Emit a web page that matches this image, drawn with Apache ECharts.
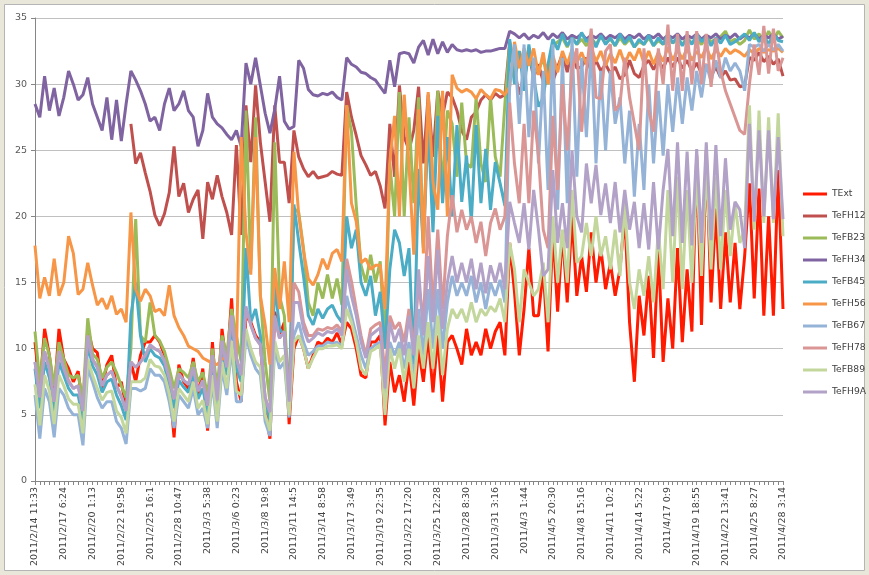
<!DOCTYPE html>
<html>
<head>
<meta charset="utf-8">
<script src="https://cdn.jsdelivr.net/npm/echarts@6/dist/echarts.min.js"></script>
<style>
html,body{margin:0;padding:0;background:#e9e7da;}
#c{width:869px;height:575px;}
</style>
</head>
<body>
<div id="c"></div>
<script>
var tickLabels = ["2011/2/14 11:33","2011/2/17 6:24","2011/2/20 1:13","2011/2/22 19:58","2011/2/25 16:1","2011/2/28 10:47","2011/3/3 5:38","2011/3/6 0:23","2011/3/8 19:8","2011/3/11 14:5","2011/3/14 8:58","2011/3/17 3:49","2011/3/19 22:35","2011/3/22 17:20","2011/3/25 12:28","2011/3/28 8:30","2011/3/31 3:16","2011/4/3 1:44","2011/4/5 20:30","2011/4/8 15:16","2011/4/11 10:2","2011/4/14 5:22","2011/4/17 0:9","2011/4/19 18:55","2011/4/22 13:41","2011/4/25 8:27","2011/4/28 3:14"];
var pointsPerLabel = 6;

var seriesNames = ["TExt","TeFH12","TeFB23","TeFH34","TeFB45","TeFH56","TeFB67","TeFH78","TeFB89","TeFH9A"];
var seriesColors = ["#ff1a00","#c0504d","#9bbb59","#8064a2","#4bacc6","#f79646","#95b3d7","#d99694","#c3d69b","#b3a2c7"];

var TExt = [10.5,7,11.5,9.5,6.5,11.5,9.2,8.5,7.5,8.3,
5.5,11.5,10,9.7,7,8.8,9.5,7,7.5,5.5,
9,7.5,9.5,10.5,10.5,11,10.5,9.5,7.5,3.3,
8.8,7.5,7,9.3,6.5,8.5,3.8,10.5,5.5,11.5,
8.5,13.8,7.5,6,12.5,12,11,10.5,5.5,3.2,
12.8,11,12,4.3,10,11,10,8.5,9.5,10.5,
10.3,10.8,10.5,11.2,10.3,12,11.5,10,8,7.8,
10.5,10.5,11,4.2,9,6.7,8,6,9,5.7,
10,7.5,11,6.7,11,6,10.5,11,10,8.8,
11.5,9.5,10.5,9.5,11.5,10,11.3,12,9.5,18,
14.3,9.5,13,17.6,12.5,12.5,16,9.8,19,12.8,
18.8,13.5,20,14,17,14.3,18.8,15,17.6,14.5,
16.5,14,16,20.1,12,7.5,14,11,15.5,9.3,
17.5,9,13.8,10,17.6,10.5,16,11.3,24.6,11.8,
25,13.5,20.6,13,18.8,13.5,18,13,17,22.5,
13.8,22.1,12.5,20,12.5,23.5,13];

var TeFH12 = [null,null,null,null,null,null,null,null,null,null,
null,null,null,null,null,null,null,null,null,null,
27,24,24.8,23.3,21.9,20.1,19.3,20.2,21.8,25.3,
21.5,22.5,20.3,21.3,22,18.3,22.6,21.3,23.1,21.5,
20.3,18.6,25.4,18.6,28.4,24.1,29.9,25.6,22.6,19.6,
28.4,24.1,24.1,21,26.5,24.5,23.6,23,23.4,22.9,
23,23.1,23.4,23.2,23.1,29.4,27.5,26.1,24.6,23.9,
23.1,23.4,22.3,20.6,27,23,29.9,26,25,26.5,
29.8,24,29.2,24.5,29.5,27.6,29.4,29,28,26.5,
25.8,27.5,27.9,28.8,29.2,28.8,29.3,29,29.2,33.2,
31,29.2,30.7,32.2,30.5,31.5,30.2,31.5,30.2,31.3,
32.3,30.9,32.6,31.2,31.3,32,31,31.8,31,31.5,
30.8,31.3,30.4,30.7,31.8,30.8,30.5,31.4,31.8,31.1,
31.8,31.2,32,31.3,32,31.2,31.8,31,31.6,30.8,
31.5,30.6,31.3,30.5,31,30.3,30.4,29.8,29.9,32,
31.8,32.4,31.7,32.1,31.5,31.9,30.6];

var TeFB23 = [11.3,7.5,10.8,9.5,7.2,10.5,9.2,8,7.8,8,
6.2,12.3,9.6,9.2,7.8,8.6,9,8.2,7.2,6.3,
10,19.8,11,10.5,13.5,11,10.6,9.8,8.5,7,
8.5,8.2,7.8,9,7.5,8.2,6.5,10,7,11,
9.5,13,11,9,28,16,27.5,14,9,6,
25.6,14,12.5,6,20.6,20.3,17.6,13.5,12.5,15,
13.8,15.6,13.8,15.3,13.3,28.4,26.4,20.8,16.3,15,
17.1,15,16.6,10,24,20,29.4,20,27.5,21,
29,18,28.5,20,29.5,22,28,27,23,28.6,
24,23.7,29,24,22.6,29,24.5,23,28.5,33,
31,32.5,30.5,32,31,31,32,30,32.8,33.2,
33.5,32.8,33.6,33,33.4,32.9,33.5,33,33.6,33.1,
33.4,32.9,33.5,33,33.4,32.8,33.2,33,33.5,32.9,
33.3,33,33.6,33.1,33.4,33,33.5,33.1,33.4,33,
33.6,33.2,33.4,33.6,34,33.2,33.4,33,33.3,34.1,
33.4,33.8,33.2,34,33.3,34,33.5];

var TeFH34 = [28.5,27.5,30.6,28,29.7,27.6,29,31,30,28.8,
29.2,30.5,28.5,27.5,26.5,29,25.8,28.8,25.7,28.5,
31,30.3,29.5,28.5,27.2,27.5,26.5,28.5,29.7,28,
28.5,29.5,28,27.5,25.3,26.5,29.3,27.5,27,26.7,
26.2,25.8,26.5,25.3,31.6,30,32,29.9,27.8,26.3,
28.1,30.6,27.2,26.6,26.8,31.8,31.2,29.6,29.2,29.1,
29.3,29.2,29.4,29,28.8,32,31.5,31.3,30.9,30.8,
30.5,30.3,29.8,29.3,31.8,29.8,32.3,32.4,32.3,31.6,
32.8,33.3,32.2,33.4,32.3,33.2,32.4,33,32.6,32.5,
32.6,32.5,32.6,32.4,32.5,32.5,32.6,32.7,32.7,34,
33.8,33.5,33.8,33.4,33.7,33.5,33.9,33.4,33.8,33.5,
33.9,33.4,33.7,33.5,33.8,33.4,33.7,33.5,33.8,33.4,
33.7,33.5,33.8,33.4,33.7,33.5,33.8,33.4,33.7,33.5,
33.8,33.4,33.7,33.5,33.8,33.4,33.7,33.5,33.8,33.4,
33.7,33.5,33.8,33.4,33.7,33.5,33.8,33.4,33.7,33.5,
33.8,33.4,33.7,33.5,33.8,33.4,33.6];

var TeFB45 = [8.5,5.5,9,7.8,5.2,9,8,7,6.5,6.5,
4.5,10.3,8.7,8,6.7,7.5,7.7,6.5,5.7,4.6,
12.5,15,11,9,10,9.5,9.3,8.7,7.2,5.5,
7.6,7.1,6.7,8.1,6.2,7,5.1,9,5.5,10,
8,11.9,8.5,7.5,17.6,12,13,11,6,4.6,
15,11.5,11,5.5,20.9,18.1,15.5,12.5,11.8,13,
12.3,13,13.3,12.5,12,20,17.6,19,15,14,
15.5,12.5,14.3,10,16,19,18,15.5,17.6,8.8,
23.6,17.6,26.9,18.8,27.6,21,26,20,26.9,21.1,
24.6,19.6,26.9,21,25.1,20.5,24.1,22.5,20.8,33.4,
30,32.5,29.5,33,30.5,28.3,29,31.5,33.4,32.6,
33.8,32.9,33.5,33,33.9,33.2,33.6,32.8,33.7,33,
33.5,32.9,33.8,33.1,33.6,32.8,33.4,33,33.7,32.9,
33.5,33,33.8,33.1,33.6,32.9,33.5,33,33.8,33.2,
33.6,32.9,33.5,33.1,33.7,33,33.2,33.5,33.8,33.3,
33.9,33.2,33.7,33,33.8,33.3,33.2];

var TeFH56 = [17.8,13.8,15.4,14,16.8,14,15,18.5,17.2,14.1,
14.5,16.5,14.8,13.3,13.8,13,14,12.6,13,12,
20.3,14.5,13.6,14.5,14,12.8,13,12.5,14.8,12.5,
11.6,11,10.2,10,9.8,9.3,9.1,8.9,8.8,9.2,
9.5,9,9.5,26,18.8,15.6,26,14,11.8,8.8,
16.1,13,16.6,12,24.9,20.1,17.4,15.3,14.8,15.6,
16.8,16,17.2,17.5,16.6,28.4,21,19.6,16.5,16.8,
16,16.3,16.3,13,24.1,27.6,20,29.2,23.9,17.1,
28.1,17.2,29.4,22.6,20.5,29.5,20,30.7,29.7,29.4,
29.6,29.4,28.9,29.6,29.2,28.9,29.6,29.5,29.2,29.8,
33.2,31.2,32.7,31.4,32.7,30.7,32.4,30,32.2,30.9,
32.5,31.5,32.6,31.6,32.4,31.5,32.8,31.7,32.5,31.4,
32.3,31.6,32.6,31.5,32.4,31.8,32.7,31.6,32.5,31.5,
32.4,31.7,32.8,31.8,32.6,31.9,32.7,31.8,32.5,32,
32.8,31.9,32.6,32.1,32.7,32.3,32.6,32.4,32.1,32.6,
32.3,32.7,32.4,32.6,32.5,32.7,32.4];

var TeFB67 = [6.5,3.2,7,6,3.3,7,6.5,5.5,5,5,
2.7,8.5,7.5,6.3,5.5,6,6,4.5,4,2.8,
7,7,6.8,7,8.5,8,8,7.5,6,4,
6.5,6,5.5,7,5,5.5,4,7.5,4,8.5,
6.5,10,6,6,11,9.5,8.5,8,4.5,3.4,
10,8.5,9,4.8,11,12,10.5,9.5,9.8,10.2,
10.2,10.5,10.4,10.5,10.2,14,12.5,11,9.5,8.5,
10,10.3,10.5,6,10.5,9.5,10.5,8.5,10.5,7.5,
13,9.5,14.5,10,14.5,10,13.5,15.5,14,15,
14,15.5,13.5,15,13,15,14,15.2,13.5,30,
33,27,33,26,32,24,31,22,33,20.5,
32,21,33.5,23,32,26,33,24,31,25,
31,27,29,24,28,21.5,27,22,30,24,
29.5,24.6,30,26.4,30.5,27,30.5,28,31,29,
31.5,30.2,31.8,30.5,32,31,31.6,31,29.5,33,
32.8,33,32.5,33,32.6,33,32.5];

var TeFH78 = [9,6.5,9.8,8.5,6,9.8,8.6,7.6,7,7.2,
5.3,11,9.2,8.6,7.2,8,8.3,7.2,6.4,5.3,
9,8.6,9,9.5,10.2,10,9.8,9.1,7.8,6.2,
8.1,7.6,7.3,8.6,6.8,7.6,5.7,9.5,6.1,10.5,
8.6,12.5,9.3,8,13,11.8,10.8,10.3,6.3,5.2,
12.3,10.8,11.3,6,15,14.3,12,11,11,11.5,
11.4,11.6,11.5,11.8,11.3,16.8,15.1,13,11,9.5,
11.5,11.8,12,8,12.5,11.5,12,10.5,13,10,
15,12,20,13,19,13,18.5,21.6,18.8,20.5,
19,20,18,19.6,17,19.5,20.6,19,20,28.6,
24,21,27,21,28,24.6,19,17.6,27.6,22,
30,25,31,32.7,26.4,31,34.2,29,28.9,32.5,
33,28,28.5,32,29,27,25,32.7,28,26.4,
32.7,30,34.5,29.5,33.8,29.5,34,30,34,30,
33.8,29.8,33.5,31,29.5,28.5,27.5,26.5,26.2,30,
33,30.7,34.4,30.8,34.2,31,32];

var TeFB89 = [7.3,4.2,8,6.8,4.3,8,7.2,6.2,5.8,5.8,
3.6,9.2,8,7,6.1,6.7,6.8,5.3,4.8,3.6,
7.5,7.5,7.5,7.8,9.2,8.7,8.6,8,6.6,4.5,
7,6.5,6,7.5,5.5,6.1,4.3,8,4.5,9,
7,10.6,6.8,6.5,11.5,10,9,8.6,5,3.8,
10.6,9,9.5,5,10.5,11,10,8.5,9.3,10,
10,10.2,10.2,10.3,10,13,12,10.5,8.5,8,
9.8,10,10.3,5,10,8.5,10,7.5,10,7,
11,8.5,12,8.5,12.5,8,11.5,13,12.3,13,
12,13.5,12,13,12.5,13.2,12.8,13.8,12,18,
16,12,16,15,14,14.5,16.5,12,20,15,
19,15,22,16.5,17,19.5,17,20,17,18.5,
16,19,15.5,21,15,13,16,14,17,13.5,
19,14.5,22,15,23,14.5,22,15,23.5,15.5,
23.9,16,23,16,22,17,21,18,19,28.4,
19,28,19.5,27.5,19.5,27.8,18.5];

var TeFH9A = [9,6.3,9.8,8.5,6,9.8,8.5,7.5,7,7.2,
5.3,11,9.2,8.6,7.2,8,8.3,7.2,6.4,5.3,
9,8.6,9,9.5,10.3,10,9.8,9.1,7.8,6.2,
8.1,7.6,7.3,8.6,6.8,7.6,5.7,9.5,6.1,10.6,
8.6,12.5,9.3,8,13.2,11.8,10.8,10.3,6.3,5.2,
12.5,10.8,11.3,6,13.5,13.5,11.5,10.5,10.8,11.2,
11,11.3,11.2,11.5,11,16,14,12.5,10.5,9.3,
11,11.3,11.6,7,12,10.5,11.5,9.5,12.5,9.5,
16,11,17,12,17.5,11.5,15,17,15,16.5,
15,16.8,14.5,16.5,14.2,16.3,15,16.5,14.5,21.1,
19.5,18,21,17.5,22,19,15.5,16,23.5,18,
21,17.6,25,20,18.8,24,21,23.9,20.1,22.5,
19.5,22.6,18.8,22,19,21.1,17.6,21,17.5,22.6,
17.5,22,25.1,18.5,25.6,18,24.9,17.8,25.1,18,
25.6,18.2,25.4,18.5,24.4,19,21.1,20.5,17.6,27,
19.6,26.5,20,26.5,19.8,26,19.8];

var allData = [TExt,TeFH12,TeFB23,TeFH34,TeFB45,TeFH56,TeFB67,TeFH78,TeFB89,TeFH9A];

var nPoints = TExt.length;
var categories = [];
for (var i = 0; i < nPoints; i++) categories.push(String(i));

var FONT = "DejaVu Sans";
var series = seriesNames.map(function (name, k) {
  return {
    name: name,
    type: "line",
    data: allData[k],
    symbol: "none",
    showSymbol: false,
    connectNulls: false,
    animation: false,
    lineStyle: { width: 3, color: seriesColors[k] },
    itemStyle: { color: seriesColors[k] },
    emphasis: { disabled: true }
  };
});

var chart = echarts.init(document.getElementById("c"), null, { renderer: "canvas" });
chart.setOption({
  backgroundColor: "#e9e7da",
  animation: false,
  graphic: [{
    type: "rect",
    z: -10,
    silent: true,
    shape: { x: 4.5, y: 4.5, width: 860, height: 566 },
    style: { fill: "#ffffff", stroke: "#b5b5b5", lineWidth: 1 }
  }],
  grid: { left: 35, top: 18, right: 86, bottom: 94, containLabel: false },
  legend: {
    orient: "vertical",
    left: 803,
    top: 188,
    padding: 0,
    icon: "rect",
    itemWidth: 24,
    itemHeight: 3,
    itemGap: 10,
    selectedMode: false,
    textStyle: { fontFamily: FONT, fontSize: 9.2, color: "#404040", lineHeight: 12 },
    data: seriesNames
  },
  xAxis: {
    type: "category",
    boundaryGap: false,
    data: categories,
    axisLine: { lineStyle: { color: "#868686", width: 1 } },
    axisTick: { show: true, interval: 0, length: 4, lineStyle: { color: "#868686" } },
    axisLabel: {
      interval: pointsPerLabel - 1,
      rotate: 90,
      margin: 6,
      fontFamily: FONT,
      fontSize: 9.5,
      color: "#404040",
      formatter: function (v, idx) {
        return idx % pointsPerLabel === 0 ? tickLabels[idx / pointsPerLabel] : "";
      }
    },
    splitLine: { show: false }
  },
  yAxis: {
    type: "value",
    min: 0,
    max: 35,
    interval: 5,
    axisLine: { show: true, lineStyle: { color: "#868686", width: 1 } },
    axisTick: { show: true, length: 4, lineStyle: { color: "#868686" } },
    axisLabel: { fontFamily: FONT, fontSize: 9.5, color: "#595959", margin: 8 },
    splitLine: { show: true, lineStyle: { color: "#c0c0c0", width: 1 } }
  },
  series: series
});
</script>
</body>
</html>
